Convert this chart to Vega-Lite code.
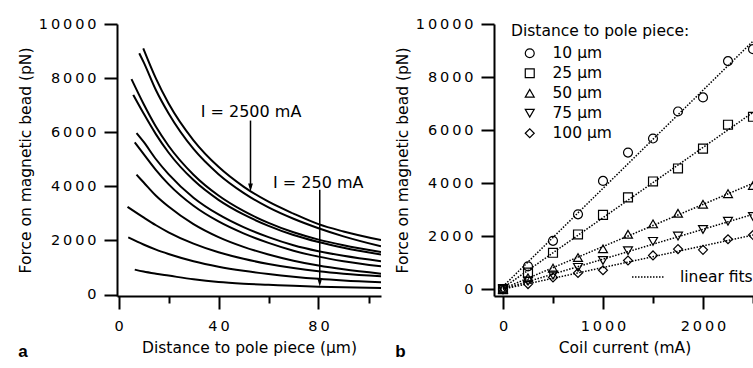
{
  "$schema": "https://vega.github.io/schema/vega-lite/v6.json",
  "background": "white",
  "padding": {"left": 18, "top": 16, "right": 0, "bottom": 0},
  "spacing": 14,
  "config": {
    "view": {"stroke": null},
    "font": "DejaVu Sans",
    "axis": {"domainColor": "black", "domainWidth": 2, "tickColor": "black", "tickWidth": 2, "tickSize": 13, "labelFont": "DejaVu Sans", "labelFontSize": 14.5, "labelColor": "black", "labelPadding": 6, "titleFont": "DejaVu Sans", "titleFontSize": 15.5, "titleFontWeight": "normal", "titleColor": "black", "grid": false, "labelFlush": false, "labelOverlap": false},
    "legend": {"labelFont": "DejaVu Sans", "labelFontSize": 15.5, "labelColor": "black", "titleFont": "DejaVu Sans", "titleFontSize": 15.5, "titleFontWeight": "normal", "titleColor": "black"},
    "title": {"font": "Liberation Sans", "fontSize": 17, "fontWeight": "bold", "color": "black"}
  },
  "datasets": {
    "curves": [
      {"current": 2500, "distance": 9.9, "force": 9100}, {"current": 2500, "distance": 15, "force": 7980}, {"current": 2500, "distance": 20, "force": 7070}, {"current": 2500, "distance": 30, "force": 5700}, {"current": 2500, "distance": 40, "force": 4720}, {"current": 2500, "distance": 50, "force": 3990}, {"current": 2500, "distance": 60, "force": 3430}, {"current": 2500, "distance": 70, "force": 2990}, {"current": 2500, "distance": 80, "force": 2600}, {"current": 2500, "distance": 90, "force": 2330}, {"current": 2500, "distance": 105, "force": 2010},
      {"current": 2250, "distance": 8.3, "force": 8920}, {"current": 2250, "distance": 10, "force": 8600}, {"current": 2250, "distance": 15, "force": 7550}, {"current": 2250, "distance": 20, "force": 6700}, {"current": 2250, "distance": 30, "force": 5380}, {"current": 2250, "distance": 40, "force": 4450}, {"current": 2250, "distance": 50, "force": 3760}, {"current": 2250, "distance": 60, "force": 3220}, {"current": 2250, "distance": 70, "force": 2800}, {"current": 2250, "distance": 80, "force": 2450}, {"current": 2250, "distance": 90, "force": 2150}, {"current": 2250, "distance": 105, "force": 1780},
      {"current": 2000, "distance": 5.2, "force": 7960}, {"current": 2000, "distance": 10, "force": 7050}, {"current": 2000, "distance": 15, "force": 6200}, {"current": 2000, "distance": 20, "force": 5500}, {"current": 2000, "distance": 30, "force": 4430}, {"current": 2000, "distance": 40, "force": 3660}, {"current": 2000, "distance": 50, "force": 3090}, {"current": 2000, "distance": 60, "force": 2650}, {"current": 2000, "distance": 70, "force": 2300}, {"current": 2000, "distance": 80, "force": 2030}, {"current": 2000, "distance": 90, "force": 1820}, {"current": 2000, "distance": 105, "force": 1570},
      {"current": 1750, "distance": 5.9, "force": 7380}, {"current": 1750, "distance": 10, "force": 6700}, {"current": 1750, "distance": 15, "force": 5920}, {"current": 1750, "distance": 20, "force": 5250}, {"current": 1750, "distance": 30, "force": 4230}, {"current": 1750, "distance": 40, "force": 3500}, {"current": 1750, "distance": 50, "force": 2960}, {"current": 1750, "distance": 60, "force": 2540}, {"current": 1750, "distance": 70, "force": 2200}, {"current": 1750, "distance": 80, "force": 1940}, {"current": 1750, "distance": 90, "force": 1730}, {"current": 1750, "distance": 105, "force": 1480},
      {"current": 1500, "distance": 7.2, "force": 5970}, {"current": 1500, "distance": 10, "force": 5650}, {"current": 1500, "distance": 15, "force": 5000}, {"current": 1500, "distance": 20, "force": 4450}, {"current": 1500, "distance": 30, "force": 3580}, {"current": 1500, "distance": 40, "force": 2960}, {"current": 1500, "distance": 50, "force": 2490}, {"current": 1500, "distance": 60, "force": 2120}, {"current": 1500, "distance": 70, "force": 1820}, {"current": 1500, "distance": 80, "force": 1600}, {"current": 1500, "distance": 90, "force": 1430}, {"current": 1500, "distance": 105, "force": 1230},
      {"current": 1250, "distance": 6.5, "force": 5620}, {"current": 1250, "distance": 10, "force": 5200}, {"current": 1250, "distance": 15, "force": 4600}, {"current": 1250, "distance": 20, "force": 4080}, {"current": 1250, "distance": 30, "force": 3280}, {"current": 1250, "distance": 40, "force": 2700}, {"current": 1250, "distance": 50, "force": 2260}, {"current": 1250, "distance": 60, "force": 1910}, {"current": 1250, "distance": 70, "force": 1620}, {"current": 1250, "distance": 80, "force": 1400}, {"current": 1250, "distance": 90, "force": 1230}, {"current": 1250, "distance": 105, "force": 1040},
      {"current": 1000, "distance": 7.2, "force": 4430}, {"current": 1000, "distance": 10, "force": 4150}, {"current": 1000, "distance": 15, "force": 3650}, {"current": 1000, "distance": 20, "force": 3250}, {"current": 1000, "distance": 30, "force": 2600}, {"current": 1000, "distance": 40, "force": 2120}, {"current": 1000, "distance": 50, "force": 1760}, {"current": 1000, "distance": 60, "force": 1480}, {"current": 1000, "distance": 70, "force": 1250}, {"current": 1000, "distance": 80, "force": 1070}, {"current": 1000, "distance": 90, "force": 930}, {"current": 1000, "distance": 105, "force": 770},
      {"current": 750, "distance": 3.6, "force": 3240}, {"current": 750, "distance": 10, "force": 2850}, {"current": 750, "distance": 15, "force": 2560}, {"current": 750, "distance": 20, "force": 2300}, {"current": 750, "distance": 30, "force": 1880}, {"current": 750, "distance": 40, "force": 1560}, {"current": 750, "distance": 50, "force": 1320}, {"current": 750, "distance": 60, "force": 1130}, {"current": 750, "distance": 70, "force": 980}, {"current": 750, "distance": 80, "force": 860}, {"current": 750, "distance": 90, "force": 770}, {"current": 750, "distance": 105, "force": 675},
      {"current": 500, "distance": 3.9, "force": 2110}, {"current": 500, "distance": 10, "force": 1850}, {"current": 500, "distance": 15, "force": 1660}, {"current": 500, "distance": 20, "force": 1500}, {"current": 500, "distance": 30, "force": 1230}, {"current": 500, "distance": 40, "force": 1030}, {"current": 500, "distance": 50, "force": 880}, {"current": 500, "distance": 60, "force": 760}, {"current": 500, "distance": 70, "force": 660}, {"current": 500, "distance": 80, "force": 580}, {"current": 500, "distance": 90, "force": 520}, {"current": 500, "distance": 105, "force": 455},
      {"current": 250, "distance": 6.5, "force": 920}, {"current": 250, "distance": 10, "force": 850}, {"current": 250, "distance": 15, "force": 770}, {"current": 250, "distance": 20, "force": 700}, {"current": 250, "distance": 30, "force": 560}, {"current": 250, "distance": 40, "force": 460}, {"current": 250, "distance": 50, "force": 400}, {"current": 250, "distance": 60, "force": 360}, {"current": 250, "distance": 70, "force": 320}, {"current": 250, "distance": 80, "force": 290}, {"current": 250, "distance": 90, "force": 270}, {"current": 250, "distance": 105, "force": 245}
    ],
    "arrows": [
      {"distance": 52.8, "top": 6430, "head": 3960, "labelDistance": 53, "labelForce": 6740, "label": "I = 2500 mA"},
      {"distance": 80.5, "top": 3870, "head": 440, "labelDistance": 79.9, "labelForce": 4140, "label": "I = 250 mA"}
    ],
    "beads": [
      {"distance": "10 µm", "current": 0, "force": 0}, {"distance": "10 µm", "current": 250, "force": 860}, {"distance": "10 µm", "current": 500, "force": 1820}, {"distance": "10 µm", "current": 750, "force": 2820}, {"distance": "10 µm", "current": 1000, "force": 4080}, {"distance": "10 µm", "current": 1250, "force": 5150}, {"distance": "10 µm", "current": 1500, "force": 5680}, {"distance": "10 µm", "current": 1750, "force": 6700}, {"distance": "10 µm", "current": 2000, "force": 7230}, {"distance": "10 µm", "current": 2250, "force": 8600}, {"distance": "10 µm", "current": 2500, "force": 9050},
      {"distance": "25 µm", "current": 0, "force": 0}, {"distance": "25 µm", "current": 250, "force": 620}, {"distance": "25 µm", "current": 500, "force": 1370}, {"distance": "25 µm", "current": 750, "force": 2060}, {"distance": "25 µm", "current": 1000, "force": 2800}, {"distance": "25 µm", "current": 1250, "force": 3460}, {"distance": "25 µm", "current": 1500, "force": 4060}, {"distance": "25 µm", "current": 1750, "force": 4550}, {"distance": "25 µm", "current": 2000, "force": 5300}, {"distance": "25 µm", "current": 2250, "force": 6200}, {"distance": "25 µm", "current": 2500, "force": 6500},
      {"distance": "50 µm", "current": 0, "force": 0}, {"distance": "50 µm", "current": 250, "force": 430}, {"distance": "50 µm", "current": 500, "force": 790}, {"distance": "50 µm", "current": 750, "force": 1190}, {"distance": "50 µm", "current": 1000, "force": 1520}, {"distance": "50 µm", "current": 1250, "force": 2070}, {"distance": "50 µm", "current": 1500, "force": 2460}, {"distance": "50 µm", "current": 1750, "force": 2860}, {"distance": "50 µm", "current": 2000, "force": 3200}, {"distance": "50 µm", "current": 2250, "force": 3600}, {"distance": "50 µm", "current": 2500, "force": 3910},
      {"distance": "75 µm", "current": 0, "force": 0}, {"distance": "75 µm", "current": 250, "force": 300}, {"distance": "75 µm", "current": 500, "force": 530}, {"distance": "75 µm", "current": 750, "force": 820}, {"distance": "75 µm", "current": 1000, "force": 1080}, {"distance": "75 µm", "current": 1250, "force": 1450}, {"distance": "75 µm", "current": 1500, "force": 1800}, {"distance": "75 µm", "current": 1750, "force": 2000}, {"distance": "75 µm", "current": 2000, "force": 2250}, {"distance": "75 µm", "current": 2250, "force": 2560}, {"distance": "75 µm", "current": 2500, "force": 2740},
      {"distance": "100 µm", "current": 0, "force": 0}, {"distance": "100 µm", "current": 250, "force": 190}, {"distance": "100 µm", "current": 500, "force": 440}, {"distance": "100 µm", "current": 750, "force": 610}, {"distance": "100 µm", "current": 1000, "force": 710}, {"distance": "100 µm", "current": 1250, "force": 1080}, {"distance": "100 µm", "current": 1500, "force": 1270}, {"distance": "100 µm", "current": 1750, "force": 1510}, {"distance": "100 µm", "current": 2000, "force": 1480}, {"distance": "100 µm", "current": 2250, "force": 1880}, {"distance": "100 µm", "current": 2500, "force": 2040}
    ]
  },
  "hconcat": [
    {
      "width": 264,
      "height": 272,
      "title": {"text": "a", "orient": "bottom", "anchor": "start", "frame": "bounds", "offset": -12},
      "layer": [
        {
          "data": {"name": "curves"},
          "mark": {"type": "line", "color": "black", "strokeWidth": 2, "interpolate": "monotone", "clip": true},
          "encoding": {
            "x": {"field": "distance", "type": "quantitative", "scale": {"domain": [-0.6, 105], "nice": false, "zero": false},
                  "axis": {"title": "Distance to pole piece (µm)", "values": [0, 20, 40, 60, 80, 100], "format": "d",
                           "tickSize": {"condition": {"test": "datum.value % 40 === 0", "value": 13}, "value": 7},
                           "labelPadding": 10, "titlePadding": 8,
                           "labelExpr": "datum.value % 40 === 0 ? join(split(datum.label, ''), '\u2009') : ''"}},
            "y": {"field": "force", "type": "quantitative", "scale": {"domain": [-55, 10000], "nice": false, "zero": false},
                  "axis": {"title": "Force on magnetic bead (pN)", "values": [0, 2000, 4000, 6000, 8000, 10000], "format": "d", "labelPadding": 8, "titlePadding": 5,
                           "labelExpr": "join(split(datum.label, ''), '\u2009')"}},
            "detail": {"field": "current", "type": "nominal"}
          }
        },
        {
          "data": {"name": "arrows"},
          "mark": {"type": "rule", "color": "black", "strokeWidth": 1.5},
          "encoding": {
            "x": {"field": "distance", "type": "quantitative"},
            "y": {"field": "top", "type": "quantitative"},
            "y2": {"field": "head"}
          }
        },
        {
          "data": {"name": "arrows"},
          "mark": {"type": "point", "shape": "M -0.6 -1 L 0.6 -1 L 0 1 Z", "filled": true, "color": "black", "size": 64, "opacity": 1},
          "encoding": {
            "x": {"field": "distance", "type": "quantitative"},
            "y": {"field": "head", "type": "quantitative"}
          }
        },
        {
          "data": {"name": "arrows"},
          "mark": {"type": "text", "font": "DejaVu Sans", "fontSize": 16, "color": "black", "align": "center", "baseline": "middle"},
          "encoding": {
            "x": {"field": "labelDistance", "type": "quantitative"},
            "y": {"field": "labelForce", "type": "quantitative"},
            "text": {"field": "label"}
          }
        }
      ]
    },
    {
      "width": 261,
      "height": 272,
      "title": {"text": "b", "orient": "bottom", "anchor": "start", "frame": "bounds", "offset": -12},
      "data": {"name": "beads"},
      "layer": [
        {
          "transform": [{"regression": "force", "on": "current", "groupby": ["distance"], "extent": [0, 2520]}],
          "mark": {"type": "line", "color": "black", "strokeWidth": 1.5, "clip": true},
          "encoding": {
            "x": {"field": "current", "type": "quantitative", "scale": {"domain": [-90, 2520], "nice": false, "zero": false},
                  "axis": {"title": "Coil current (mA)", "values": [0, 500, 1000, 1500, 2000, 2500], "format": "d",
                           "tickSize": {"condition": {"test": "datum.value % 1000 === 0", "value": 13}, "value": 7},
                           "labelPadding": 10, "titlePadding": 8,
                           "labelExpr": "datum.value % 1000 === 0 ? join(split(datum.label, ''), '\u2009') : ''"}},
            "y": {"field": "force", "type": "quantitative", "scale": {"domain": [-260, 10000], "nice": false, "zero": false},
                  "axis": {"title": "Force on magnetic bead (pN)", "values": [0, 2000, 4000, 6000, 8000, 10000], "format": "d", "labelPadding": 8, "titlePadding": 5,
                           "labelExpr": "join(split(datum.label, ''), '\u2009')"}},
            "detail": {"field": "distance", "type": "nominal"},
            "strokeDash": {"datum": "linear fits", "type": "nominal",
                           "scale": {"domain": ["linear fits"], "range": [[1.5, 1.5]]},
                           "legend": {"orient": "none", "legendX": 514, "legendY": 236, "title": null, "symbolType": "stroke", "symbolSize": 1024, "symbolStrokeWidth": 1.5, "symbolStrokeColor": "black", "labelOffset": 15, "padding": 0}}
          }
        },
        {
          "mark": {"type": "point", "color": "black", "filled": false, "size": 80, "strokeWidth": 1.2, "opacity": 1},
          "encoding": {
            "x": {"field": "current", "type": "quantitative"},
            "y": {"field": "force", "type": "quantitative"},
            "shape": {"field": "distance", "type": "nominal",
                      "scale": {"domain": ["10 µm", "25 µm", "50 µm", "75 µm", "100 µm"], "range": ["circle", "square", "triangle-up", "triangle-down", "diamond"]},
                      "legend": {"orient": "none", "legendX": 394, "legendY": 0, "title": "Distance to pole piece:", "symbolOffset": 11, "labelOffset": 15, "rowPadding": 3, "titlePadding": 6, "padding": 0, "symbolStrokeColor": "black", "symbolFillColor": "transparent", "symbolSize": 80, "symbolStrokeWidth": 1.2}}
          }
        }
      ]
    }
  ]
}
